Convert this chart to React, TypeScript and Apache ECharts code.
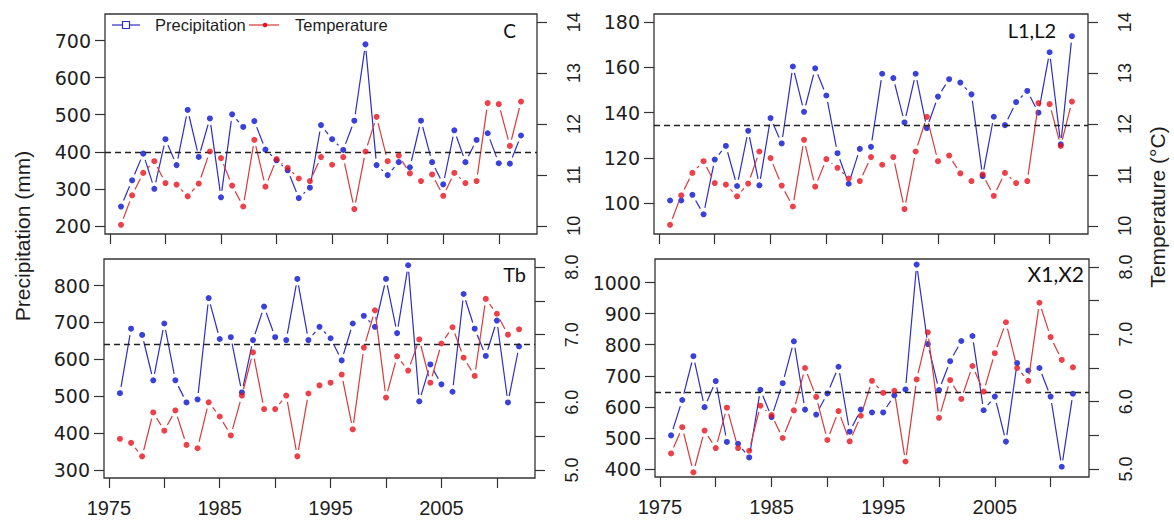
import { useEffect, useRef } from "react";
import * as echarts from "echarts";

// Years of record
const years = [
  1976, 1977, 1978, 1979, 1980, 1981, 1982, 1983, 1984, 1985, 1986, 1987, 1988,
  1989, 1990, 1991, 1992, 1993, 1994, 1995, 1996, 1997, 1998, 1999, 2000, 2001,
  2002, 2003, 2004, 2005, 2006, 2007, 2008, 2009, 2010, 2011, 2012,
];

// Annual precipitation (mm) per station group
const precipC = [
  252, 323, 395, 300, 434, 364, 513, 386, 490, 277, 501, 467, 483, 406, 377, 350, 275,
  303, 472, 434, 405, 484, 690, 364, 337, 372, 358, 484, 372, 312, 458, 372, 432, 450,
  369, 368, 444,
];
const precipL = [
  101.2, 101.2, 103.7, 95.1, 119.3, 125.3, 107.6, 132, 107.9, 137.6, 126.4, 160.4, 140.4,
  159.6, 147.6, 122.1, 108.6, 124, 124.9, 157.2, 155.3, 135.7, 157.2, 133.2, 147.1, 154.8,
  153.3, 148.1, 112, 138.2, 134.5, 144.7, 149.6, 140, 166.7, 126, 173.8,
];
const precipTb = [
  508, 683, 666, 543, 697, 543, 483, 491, 766, 655, 660, 510, 652, 743, 660, 652, 818,
  652, 688, 657, 597, 697, 718, 688, 818, 671, 855, 486, 586, 532, 512, 777, 683, 609,
  705, 483, 635,
];
const precipX = [
  508, 622, 763, 599, 683, 487, 481, 437, 655, 567, 676, 811, 591, 575, 643, 729, 520,
  591, 582, 582, 637, 656, 1058, 802, 654, 747, 812, 828, 589, 633, 488, 741, 717, 725,
  633, 407, 642,
];

// Annual mean temperature (°C)
const tempCL = [
  10.02, 10.6, 11.04, 11.27, 10.84, 10.81, 10.58, 10.83, 11.46, 11.33, 10.79, 10.38, 11.69,
  10.77, 11.31, 11.14, 10.93, 10.88, 11.35, 11.2, 11.35, 10.33, 11.46, 12.14, 11.27, 11.38,
  11.03, 10.88, 11.01, 10.59, 11.04, 10.84, 10.88, 12.41, 12.39, 11.57, 12.44,
];
const tempTb = [
  5.46, 5.4, 5.2, 5.85, 5.58, 5.88, 5.37, 5.32, 6.0, 5.79, 5.51, 6.1, 6.74, 5.9, 5.9, 6.1,
  5.2, 6.13, 6.25, 6.29, 6.41, 5.6, 6.81, 7.36, 6.07, 6.68, 6.47, 6.93, 6.29, 6.87, 7.11,
  6.66, 6.39, 7.53, 7.31, 7.0, 7.08,
];
const tempX = [
  5.23, 5.62, 4.95, 5.57, 5.31, 5.91, 5.31, 5.27, 5.94, 5.8, 5.46, 5.87, 6.5, 6.07, 5.43,
  5.86, 5.41, 5.79, 6.31, 6.13, 6.16, 5.11, 6.33, 7.03, 5.76, 6.32, 6.04, 6.53, 6.15, 6.72,
  7.18, 6.5, 6.31, 7.47, 6.96, 6.62, 6.51,
];

// Long-term mean precipitation (dashed reference)
const meanC = 400;
const meanL = 134.5;
const meanTb = 642;
const meanX = 646;

// Axis ticks
const xTicks = [1975, 1980, 1985, 1990, 1995, 2000, 2005, 2010];
const xLabels = [1975, 1985, 1995, 2005];
const pTicksC = [200, 300, 400, 500, 600, 700];
const pTicksL = [100, 120, 140, 160, 180];
const pTicksTb = [300, 400, 500, 600, 700, 800];
const pTicksX = [400, 500, 600, 700, 800, 900, 1000];
const tTicksUpper = [10, 11, 12, 13, 14];
const tTicksLower = [5, 5.5, 6, 6.5, 7, 7.5, 8];
const tLabelsLower = [5, 6, 7, 8];

const FONT = '"Liberation Sans", Arial, sans-serif';
const NUM_FONT = '"DejaVu Sans", "Liberation Sans", sans-serif';
const TAG_FONT = 'Lato, "Open Sans", sans-serif';
const BLUE_PT = "#0812d2";
const BLUE_LN = "#2e2ec6";
const RED_PT = "#e8101a";
const RED_LN = "#d83a3a";
const INK = "#1e1e1e";
const GAP = 6.5; // gap between connecting segments and points

type Panel = {
  tag: string;
  precip: number[];
  temp: number[];
  mean: number;
  box: { left: number; top: number; width: number; height: number };
  pRange: [number, number];
  pTicks: number[];
  tRange: [number, number];
  tTicks: number[];
  tLabels: number[];
  tDigits: number;
  showYears: boolean;
  tagPos: [number, number];
  tagSize: number;
};

const panels: Panel[] = [
  {
    tag: "C",
    precip: precipC,
    temp: tempCL,
    mean: meanC,
    box: { left: 105, top: 14, width: 432, height: 220 },
    pRange: [178, 772],
    pTicks: pTicksC,
    tRange: [9.84, 14.16],
    tTicks: tTicksUpper,
    tLabels: tTicksUpper,
    tDigits: 0,
    showYears: false,
    tagPos: [516, 21],
    tagSize: 19,
  },
  {
    tag: "L1,L2",
    precip: precipL,
    temp: tempCL,
    mean: meanL,
    box: { left: 654, top: 14, width: 434, height: 220 },
    pRange: [86.4, 183.6],
    pTicks: pTicksL,
    tRange: [9.84, 14.16],
    tTicks: tTicksUpper,
    tLabels: tTicksUpper,
    tDigits: 0,
    showYears: false,
    tagPos: [1056, 20],
    tagSize: 20,
  },
  {
    tag: "Tb",
    precip: precipTb,
    temp: tempTb,
    mean: meanTb,
    box: { left: 104, top: 259, width: 431, height: 219 },
    pRange: [278, 872],
    pTicks: pTicksTb,
    tRange: [4.88, 8.12],
    tTicks: tTicksLower,
    tLabels: tLabelsLower,
    tDigits: 1,
    showYears: true,
    tagPos: [526, 264],
    tagSize: 20,
  },
  {
    tag: "X1,X2",
    precip: precipX,
    temp: tempX,
    mean: meanX,
    box: { left: 655, top: 259, width: 434, height: 218 },
    pRange: [374, 1076],
    pTicks: pTicksX,
    tRange: [4.88, 8.12],
    tTicks: tTicksLower,
    tLabels: tLabelsLower,
    tDigits: 1,
    showYears: true,
    tagPos: [1084, 263],
    tagSize: 21,
  },
];

const X_MIN = 1974.56;
const X_MAX = 2013.44;

function segments(vals: number[]) {
  const out: number[][] = [];
  for (let i = 0; i < vals.length - 1; i++) {
    out.push([years[i], vals[i], years[i + 1], vals[i + 1]]);
  }
  return out;
}

// Connecting segments drawn like R's type = "b": broken around each point
function segmentSeries(vals: number[], xi: number, yi: number, color: string, z: number) {
  return {
    type: "custom",
    xAxisIndex: xi,
    yAxisIndex: yi,
    silent: true,
    z,
    data: segments(vals),
    dimensions: ["x0", "y0", "x1", "y1"],
    encode: { x: [0, 2], y: [1, 3] },
    renderItem: (_params: any, api: any) => {
      const p0 = api.coord([api.value(0), api.value(1)]);
      const p1 = api.coord([api.value(2), api.value(3)]);
      const dx = p1[0] - p0[0];
      const dy = p1[1] - p0[1];
      const len = Math.hypot(dx, dy);
      if (len <= 2 * GAP + 1) return { type: "group", children: [] };
      const ux = dx / len;
      const uy = dy / len;
      return {
        type: "line",
        shape: {
          x1: p0[0] + ux * GAP,
          y1: p0[1] + uy * GAP,
          x2: p1[0] - ux * GAP,
          y2: p1[1] - uy * GAP,
        },
        style: { stroke: color, lineWidth: 1.2 },
      };
    },
  };
}

function buildOption() {
  const grid: any[] = [];
  const xAxis: any[] = [];
  const yAxis: any[] = [];
  const series: any[] = [];
  const graphic: any[] = [];

  panels.forEach((p, i) => {
    grid.push({
      ...p.box,
      show: true,
      borderColor: "#333",
      borderWidth: 1.3,
      backgroundColor: "transparent",
      containLabel: false,
    });
    xAxis.push({
      type: "value",
      gridIndex: i,
      min: X_MIN,
      max: X_MAX,
      axisLine: { show: false },
      splitLine: { show: false },
      axisTick: {
        show: true,
        customValues: xTicks,
        length: 10,
        lineStyle: { color: "#333", width: 1.2 },
      },
      axisLabel: {
        show: p.showYears,
        customValues: xLabels,
        margin: 20,
        fontSize: 20,
        fontFamily: FONT,
        color: INK,
        formatter: (v: number) => String(v),
      },
    });
    yAxis.push({
      type: "value",
      gridIndex: i,
      position: "left",
      min: p.pRange[0],
      max: p.pRange[1],
      axisLine: { show: false },
      splitLine: { show: false },
      axisTick: {
        show: true,
        customValues: p.pTicks,
        length: 10,
        lineStyle: { color: "#333", width: 1.2 },
      },
      axisLabel: {
        customValues: p.pTicks,
        margin: 14,
        fontSize: 19,
        fontFamily: NUM_FONT,
        color: INK,
        formatter: (v: number) => String(v),
      },
    });
    yAxis.push({
      type: "value",
      gridIndex: i,
      position: "right",
      min: p.tRange[0],
      max: p.tRange[1],
      axisLine: { show: false },
      splitLine: { show: false },
      axisTick: {
        show: true,
        customValues: p.tTicks,
        length: 10,
        lineStyle: { color: "#333", width: 1.2 },
      },
      axisLabel: {
        customValues: p.tLabels,
        rotate: 90,
        margin: 28,
        fontSize: 18,
        fontFamily: FONT,
        color: INK,
        formatter: (v: number) => v.toFixed(p.tDigits),
      },
    });

    const yp = 2 * i;
    const yt = 2 * i + 1;
    series.push(segmentSeries(p.precip, i, yp, BLUE_LN, 2));
    series.push({
      type: "scatter",
      name: "Precipitation",
      xAxisIndex: i,
      yAxisIndex: yp,
      silent: true,
      z: 3,
      symbol: "circle",
      symbolSize: 6,
      itemStyle: { color: BLUE_PT },
      data: years.map((y, k) => [y, p.precip[k]]),
      markLine: {
        silent: true,
        symbol: ["none", "none"],
        label: { show: false },
        lineStyle: { type: [6, 4], color: "#222", width: 1.3 },
        data: [{ yAxis: p.mean }],
      },
    });
    series.push(segmentSeries(p.temp, i, yt, RED_LN, 4));
    series.push({
      type: "scatter",
      name: "Temperature",
      xAxisIndex: i,
      yAxisIndex: yt,
      silent: true,
      z: 5,
      symbol: "circle",
      symbolSize: 6,
      itemStyle: { color: RED_PT },
      data: years.map((y, k) => [y, p.temp[k]]),
    });

    graphic.push({
      type: "text",
      x: p.tagPos[0],
      y: p.tagPos[1],
      z: 10,
      style: {
        text: p.tag,
        fontFamily: TAG_FONT,
        fontSize: p.tagSize,
        fill: "#111",
        align: "right",
        verticalAlign: "top",
      },
    });
  });

  // Legend
  graphic.push(
    { type: "line", z: 10, shape: { x1: 112, y1: 25, x2: 140, y2: 25 }, style: { stroke: BLUE_LN, lineWidth: 1.2 } },
    { type: "rect", z: 11, shape: { x: 122.5, y: 21.5, width: 7, height: 7 }, style: { fill: "#fff", stroke: BLUE_LN, lineWidth: 1.2 } },
    {
      type: "text",
      z: 10,
      x: 155,
      y: 25,
      style: { text: "Precipitation", fontFamily: FONT, fontSize: 16.5, fill: INK, align: "left", verticalAlign: "middle" },
    },
    { type: "line", z: 10, shape: { x1: 249, y1: 25, x2: 279, y2: 25 }, style: { stroke: RED_LN, lineWidth: 1.2 } },
    { type: "circle", z: 11, shape: { cx: 265, cy: 25, r: 2.3 }, style: { fill: RED_PT } },
    {
      type: "text",
      z: 10,
      x: 295,
      y: 25,
      style: { text: "Temperature", fontFamily: FONT, fontSize: 16.5, fill: INK, align: "left", verticalAlign: "middle" },
    }
  );

  // Shared axis titles
  graphic.push(
    {
      type: "text",
      x: 22,
      y: 236,
      rotation: Math.PI / 2,
      style: { text: "Precipitation (mm)", fontFamily: FONT, fontSize: 21, fill: INK, align: "center", verticalAlign: "middle" },
    },
    {
      type: "text",
      x: 1157,
      y: 207,
      rotation: Math.PI / 2,
      style: { text: "Temperature (°C)", fontFamily: FONT, fontSize: 21, fill: INK, align: "center", verticalAlign: "middle" },
    }
  );

  return {
    animation: false,
    backgroundColor: "#ffffff",
    grid,
    xAxis,
    yAxis,
    series,
    graphic,
  };
}

export default function App() {
  const ref = useRef<HTMLDivElement>(null);

  useEffect(() => {
    if (!ref.current) return;
    const chart = echarts.init(ref.current, undefined, { renderer: "svg" });
    chart.setOption(buildOption() as any);
    return () => chart.dispose();
  }, []);

  return (
    <div
      ref={ref}
      style={{ position: "absolute", left: 0, top: 0, width: 1174, height: 523 }}
    />
  );
}
